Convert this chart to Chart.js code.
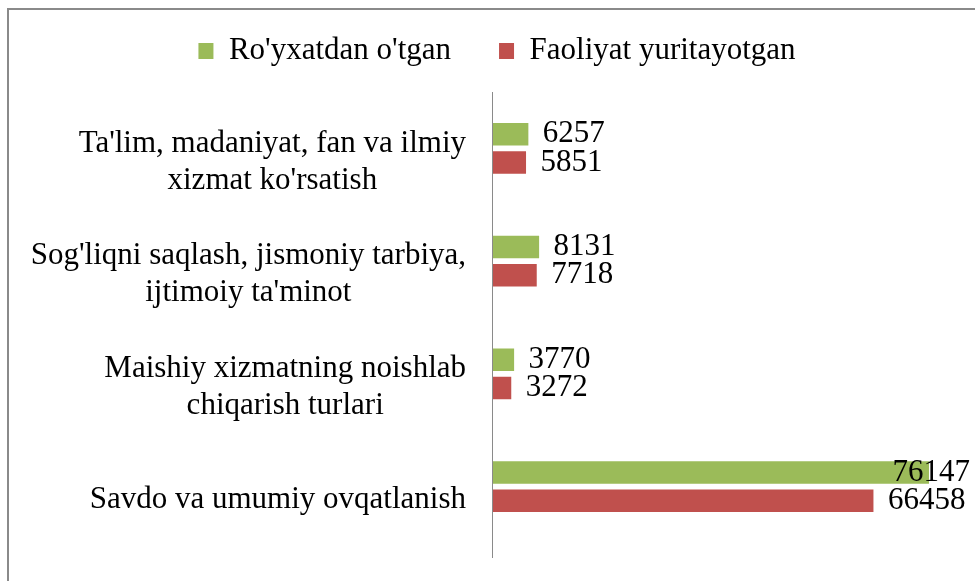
<!DOCTYPE html>
<html>
<head>
<meta charset="utf-8">
<script src="https://cdn.jsdelivr.net/npm/chart.js@4"></script>
<style>
  html, body { margin: 0; padding: 0; background: #ffffff; overflow: hidden; }
  #wrap { position: relative; width: 975px; height: 581px; overflow: hidden; }
  #frame { position: absolute; left: 7px; top: 8px; width: 2000px; height: 2000px;
           border-left: 2px solid #8a8a8a; border-top: 2px solid #8a8a8a; pointer-events: none; }
  canvas { position: absolute; left: 0; top: 0; }
</style>
</head>
<body>
<div id="wrap">
  <canvas id="c" width="975" height="581"></canvas>
  <div id="frame"></div>
</div>
<script>
// ---- data ----
const categories = [
  ["Ta'lim, madaniyat, fan va ilmiy", "xizmat ko'rsatish"],
  ["Sog'liqni saqlash, jismoniy tarbiya,", "ijtimoiy ta'minot"],
  ["Maishiy xizmatning noishlab", "chiqarish turlari"],
  ["Savdo va umumiy ovqatlanish"]
];
const seriesNames = ["Ro'yxatdan o'tgan", "Faoliyat yuritayotgan"];
const registered = [6257, 8131, 3770, 76147];
const active = [5851, 7718, 3272, 66458];
const axisMax = 84000;

// ---- styling ----
const FONT = '"Liberation Serif", "Times New Roman", serif';
const GREEN = '#9BBB59';
const RED = '#C0504D';
const AXIS = '#8a8a8a';

const valueLabels = {
  id: 'valueLabels',
  afterDatasetsDraw(chart) {
    const ctx = chart.ctx;
    ctx.save();
    ctx.font = '31px ' + FONT;
    ctx.fillStyle = '#000';
    ctx.textBaseline = 'middle';
    ctx.textAlign = 'left';
    chart.data.datasets.forEach((ds, di) => {
      const meta = chart.getDatasetMeta(di);
      meta.data.forEach((el, i) => {
        const txt = String(ds.data[i]);
        const w = ctx.measureText(txt).width;
        const x = Math.min(el.x + 14.5, chart.width - 5 - w);
        ctx.fillText(txt, x, el.y);
      });
    });
    ctx.restore();
  }
};

const categoryLabels = {
  id: 'categoryLabels',
  afterDraw(chart) {
    const s = chart.scales.y;
    const ctx = chart.ctx;
    ctx.save();
    ctx.font = '31px ' + FONT;
    ctx.fillStyle = '#000';
    ctx.textBaseline = 'middle';
    ctx.textAlign = 'center';
    chart.data.labels.forEach((lab, i) => {
      const lines = Array.isArray(lab) ? lab : [lab];
      const cy = s.getPixelForTick(i) + 13.7;
      const bw = Math.max(...lines.map(l => ctx.measureText(l).width));
      const cx = s.right - 26.5 - bw / 2;
      const n = lines.length;
      lines.forEach((l, k) => ctx.fillText(l, cx, cy + (k - (n - 1) / 2) * 37));
    });
    ctx.restore();
  }
};

function draw() {
  new Chart(document.getElementById('c'), {
    type: 'bar',
    data: {
      labels: categories,
      datasets: [
        { label: seriesNames[0], data: registered, backgroundColor: GREEN, borderWidth: 0,
          categoryPercentage: 0.5, barPercentage: 0.8 },
        { label: seriesNames[1], data: active, backgroundColor: RED, borderWidth: 0,
          categoryPercentage: 0.5, barPercentage: 0.8 }
      ]
    },
    options: {
      indexAxis: 'y',
      responsive: false,
      animation: false,
      devicePixelRatio: 1,
      layout: { padding: { top: -12.5, left: 20, right: 1, bottom: 23 } },
      plugins: {
        legend: {
          display: true,
          position: 'top',
          align: 'center',
          labels: {
            font: { family: FONT, size: 31 },
            color: '#000',
            boxWidth: 15,
            boxHeight: 16,
            padding: 48
          }
        },
        tooltip: { enabled: false },
        title: { display: false }
      },
      scales: {
        x: {
          type: 'linear',
          position: 'top',
          min: 0,
          max: axisMax,
          ticks: { display: false },
          border: { display: false },
          grid: {
            display: true,
            drawOnChartArea: true,
            drawTicks: true,
            tickLength: 15.5,
            tickColor: 'rgba(0,0,0,0)',
            color: (c) => (c.tick && c.tick.value === 0 ? AXIS : 'rgba(0,0,0,0)'),
            borderDash: [1000, 13],
            borderDashOffset: 1000,
            lineWidth: 1
          }
        },
        x2: {
          type: 'linear',
          axis: 'x',
          position: 'bottom',
          min: 0,
          max: axisMax,
          ticks: { display: false },
          border: { display: false },
          grid: {
            display: true,
            drawOnChartArea: false,
            drawTicks: true,
            tickLength: 15,
            tickColor: (c) => (c.tick && c.tick.value === 0 ? AXIS : 'rgba(0,0,0,0)'),
            color: 'rgba(0,0,0,0)'
          }
        },
        y: {
          type: 'category',
          position: 'left',
          ticks: { display: false },
          grid: { display: false },
          border: { display: false },
          afterFit: (scale) => { scale.width = 472.5; }
        }
      }
    },
    plugins: [valueLabels, categoryLabels]
  });
}

if (document.fonts && document.fonts.load) {
  document.fonts.load('31px "Liberation Serif"').then(draw, draw);
} else {
  draw();
}
</script>
</body>
</html>
